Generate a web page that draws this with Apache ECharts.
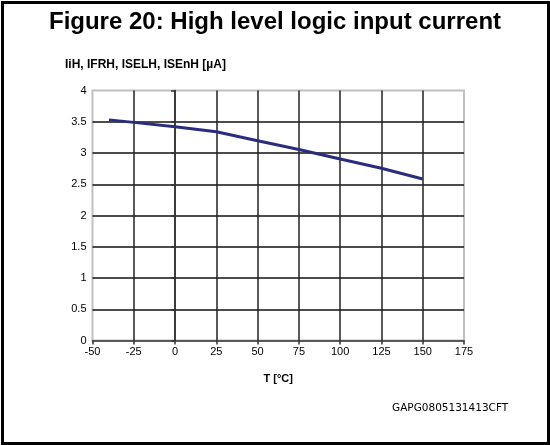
<!DOCTYPE html>
<html><head><meta charset="utf-8">
<script src="https://cdn.jsdelivr.net/npm/echarts@6/dist/echarts.min.js"></script>
<style>html,body{margin:0;padding:0;background:#fff}#c{width:550px;height:445px}</style>
</head><body><div id="c"></div>
<script>
var temps = [-40, -25, 0, 25, 50, 75, 100, 125, 150];
var current = [3.53, 3.49, 3.42, 3.34, 3.195, 3.055, 2.905, 2.755, 2.585];
var titleText = 'Figure 20: High level logic input current';
var yName = 'IiH, IFRH, ISELH, ISEnH [µA]';
var xName = 'T [°C]';
var footer = 'GAPG0805131413CFT';

var chart = echarts.init(document.getElementById('c'), null, {renderer: 'canvas'});
chart.setOption({
  animation: false,
  backgroundColor: '#fff',
  title: {
    text: titleText, left: 'center', top: 5,
    textStyle: {fontFamily: 'Liberation Sans', fontWeight: 'bold', fontSize: 24, color: '#000'}
  },
  graphic: [
    {type: 'rect', left: 0, top: 0, z: 100, shape: {x: 1, y: 1, width: 546, height: 441}, style: {fill: null, stroke: '#000', lineWidth: 3}},
    {type: 'text', left: 65, top: 59, style: {text: yName, font: 'bold 12px "Liberation Sans"', fill: '#000'}},
    {type: 'text', left: 392, top: 403, style: {text: footer, font: '10.5px "DejaVu Sans"', fill: '#000'}}
  ],
  grid: {left: 92.5, right: 86, top: 90.5, bottom: 104.5, show: true, borderColor: '#c0c0c0', borderWidth: 2},
  xAxis: {
    type: 'value', min: -50, max: 175, interval: 25,
    name: xName, nameLocation: 'middle', nameGap: 33,
    nameTextStyle: {fontFamily: 'Liberation Sans', fontWeight: 'bold', fontSize: 11, color: '#000'},
    axisLine: {show: true, lineStyle: {color: '#333', width: 1.5}},
    axisTick: {show: true, length: 4, lineStyle: {color: '#333', width: 1.5}},
    axisLabel: {fontFamily: 'Liberation Sans', fontSize: 11, color: '#000', margin: 6},
    splitLine: {show: true, showMinLine: false, showMaxLine: false, lineStyle: {color: '#222', width: 1.5}}
  },
  yAxis: {
    type: 'value', min: 0, max: 4, interval: 0.5,
    axisLine: {show: true, lineStyle: {color: '#333', width: 1.5}},
    axisTick: {show: true, length: 4, lineStyle: {color: '#333', width: 1.5}},
    axisLabel: {fontFamily: 'Liberation Sans', fontSize: 11, color: '#000', margin: 6},
    splitLine: {show: true, showMinLine: false, showMaxLine: false, lineStyle: {color: '#111', width: 1.5}}
  },
  series: [{
    type: 'line', data: temps.map(function (t, i) { return [t, current[i]]; }),
    showSymbol: false, lineStyle: {color: '#2b2d7c', width: 3}
  }]
});
</script></body></html>
